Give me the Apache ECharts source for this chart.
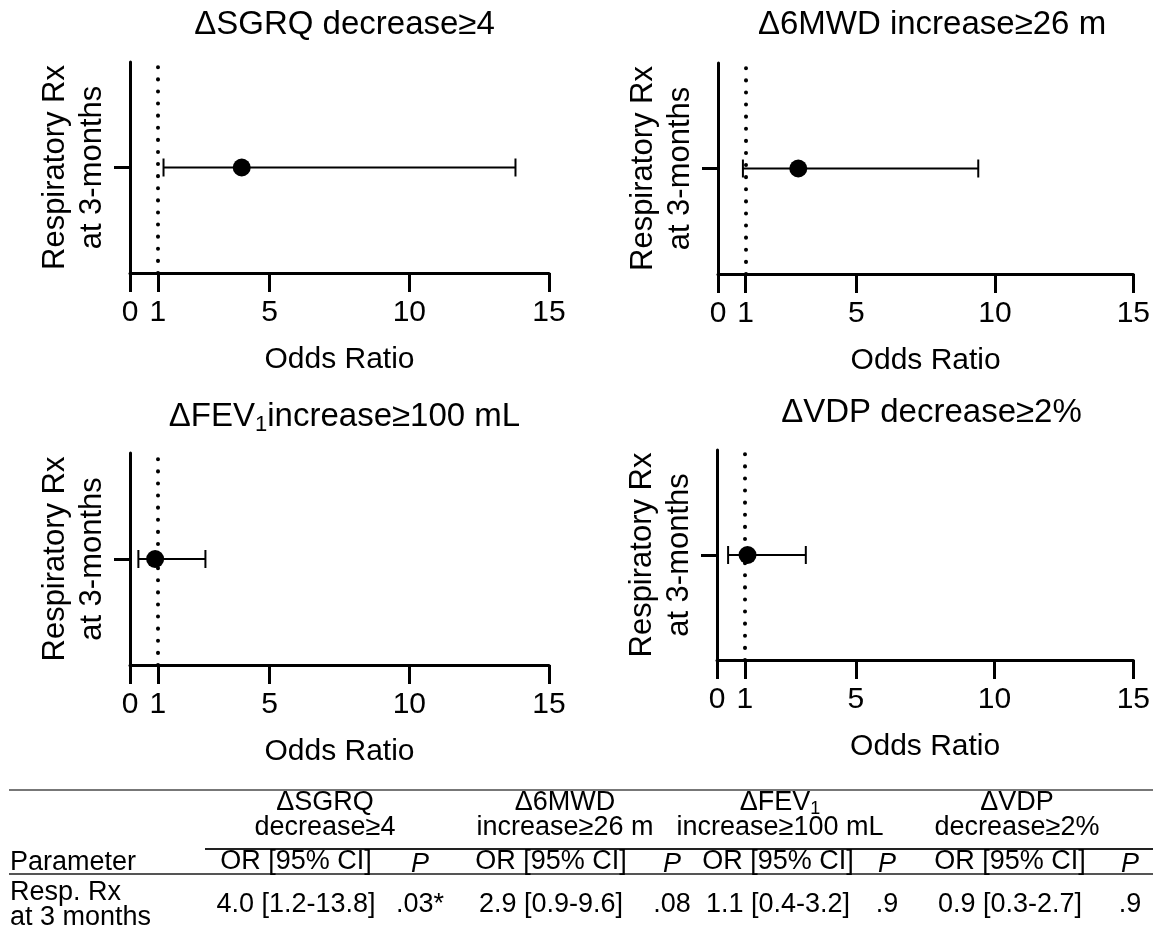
<!DOCTYPE html>
<html>
<head>
<meta charset="utf-8">
<script src="https://cdn.jsdelivr.net/npm/echarts@6/dist/echarts.min.js"></script>
<style>
  html, body { margin: 0; padding: 0; background: #fff; }
  #chart { width: 1153px; height: 935px; }
</style>
</head>
<body>
<div id="chart"></div>
<script>
// ===== datos =====
const panelTitles = ['ΔSGRQ decrease≥4', 'Δ6MWD increase≥26 m', '{a|ΔFEV}{s|1}{a|increase≥100 mL}', 'ΔVDP decrease≥2%'];
const rowName = 'Respiratory Rx\nat 3-months';
const orVals = [4.0, 2.9, 0.9, 1.1];
const loVals = [1.2, 0.9, 0.3, 0.4];
const hiVals = [13.8, 9.4, 2.7, 3.2];
const xTicks = [0, 1, 5, 10, 15];
const refLine = 1;

// tabla
const tblGroupTop = ['ΔSGRQ', 'Δ6MWD', '{a|ΔFEV}{s|1}', 'ΔVDP'];
const tblGroupBot = ['decrease≥4', 'increase≥26 m', 'increase≥100 mL', 'decrease≥2%'];
const tblOR = ['4.0 [1.2-13.8]', '2.9 [0.9-9.6]', '1.1 [0.4-3.2]', '0.9 [0.3-2.7]'];
const tblP = ['.03*', '.08', '.9', '.9'];
const tblRow = 'Resp. Rx\nat 3 months';

// ---- layout ----
const FONT = '"Liberation Sans", Arial, Helvetica, sans-serif';
const grids = [
  { left: 130, top: 62, width: 419, height: 211 },
  { left: 718, top: 63, width: 418, height: 211 },
  { left: 130, top: 453, width: 419, height: 212 },
  { left: 717, top: 450, width: 419, height: 210 },
];
const titleTop = [3, 3, 393, 391];
const groupX = [325, 565, 780, 1017];
const orX = [296, 551, 778, 1010];
const pX = [420, 672, 887, 1130];
const TF = 27; // tamaño de letra de la tabla

const chart = echarts.init(document.getElementById('chart'), null, { renderer: 'canvas' });

const axisLine = { show: true, lineStyle: { color: '#000', width: 3 } };

const option = {
  animation: false,
  textStyle: { fontFamily: FONT },
  title: grids.map((g, i) => ({
    text: panelTitles[i],
    left: g.left + g.width / 2,
    top: titleTop[i],
    textAlign: 'center',
    textStyle: {
      fontFamily: FONT, fontSize: 33, fontWeight: 'normal', color: '#000',
      rich: {
        a: { fontFamily: FONT, fontSize: 33, color: '#000', lineHeight: 38 },
        s: { fontFamily: FONT, fontSize: 22, color: '#000', lineHeight: 12, verticalAlign: 'bottom' },
      },
    },
  })),
  grid: grids.map(g => Object.assign({ containLabel: false }, g)),
  xAxis: grids.map((g, i) => ({
    type: 'value', gridIndex: i, min: 0, max: 15,
    axisLine,
    axisTick: { show: true, length: 19, customValues: xTicks, lineStyle: { color: '#000', width: 3 } },
    axisLabel: { customValues: xTicks, margin: 25, fontSize: 30, color: '#000', fontFamily: FONT },
    splitLine: { show: false },
    name: 'Odds Ratio', nameLocation: 'middle', nameGap: 72,
    nameTextStyle: { fontSize: 30, color: '#000', fontFamily: FONT },
  })),
  yAxis: grids.map((g, i) => ({
    type: 'value', gridIndex: i, min: 0, max: 2,
    axisLine,
    axisTick: { show: true, length: 16, customValues: [1], lineStyle: { color: '#000', width: 3 } },
    axisLabel: { show: false },
    splitLine: { show: false },
    name: rowName, nameLocation: 'middle', nameRotate: 90, nameGap: 19,
    nameTextStyle: { fontSize: 31, lineHeight: 37, color: '#000', fontFamily: FONT, align: 'center' },
  })),
  series: [],
  graphic: [],
};

// barras de error + punto + línea de referencia
grids.forEach((g, i) => {
  option.series.push({
    type: 'custom', xAxisIndex: i, yAxisIndex: i, z: 2,
    data: [[orVals[i], loVals[i], hiVals[i], 1]],
    encode: { x: [1, 2], y: 3 },
    renderItem(params, api) {
      const y = api.coord([0, api.value(3)])[1];
      const x0 = api.coord([api.value(1), 1])[0];
      const x1 = api.coord([api.value(2), 1])[0];
      const st = { stroke: '#000', lineWidth: 2 };
      return {
        type: 'group',
        children: [
          { type: 'line', shape: { x1: x0, y1: y, x2: x1, y2: y }, style: st },
          { type: 'line', shape: { x1: x0, y1: y - 9, x2: x0, y2: y + 9 }, style: st },
          { type: 'line', shape: { x1: x1, y1: y - 9, x2: x1, y2: y + 9 }, style: st },
        ],
      };
    },
  });
  option.series.push({
    type: 'scatter', xAxisIndex: i, yAxisIndex: i, z: 3,
    symbol: 'circle', symbolSize: 18,
    itemStyle: { color: '#000', opacity: 1 },
    data: [[orVals[i], 1]],
    markLine: {
      silent: true, symbol: ['none', 'none'], label: { show: false }, z: 1,
      lineStyle: { color: '#000', width: 4, type: [0.1, 12], cap: 'round', opacity: 1 },
      data: [{ xAxis: refLine }],
    },
  });
});

// ---- tabla ----
const txt = (x, y, text, extra) => ({
  type: 'text', x, y, silent: true,
  style: Object.assign({
    text, fill: '#000', font: TF + 'px ' + FONT,
    textAlign: 'center', textVerticalAlign: 'middle',
    rich: {
      a: { fontFamily: FONT, fontSize: TF, color: '#000', lineHeight: 30 },
      s: { fontFamily: FONT, fontSize: 18, color: '#000', lineHeight: 10, verticalAlign: 'bottom' },
    },
  }, extra || {}),
});
const hline = (x1, x2, y, color, w) => ({
  type: 'line', silent: true, shape: { x1, y1: y, x2, y2: y }, style: { stroke: color, lineWidth: w },
});

option.graphic.push(hline(9, 1153, 790, '#777', 2));
option.graphic.push(hline(205, 1153, 849, '#222', 2));
option.graphic.push(hline(9, 1153, 874, '#555', 2));
option.graphic.push(txt(10, 863, 'Parameter', { textAlign: 'left' }));
option.graphic.push(txt(10, 905, tblRow, { textAlign: 'left', lineHeight: 25 }));
tblGroupTop.forEach((t, i) => {
  option.graphic.push(txt(groupX[i], 803, t));
  option.graphic.push(txt(groupX[i], 828, tblGroupBot[i]));
  option.graphic.push(txt(orX[i], 862, 'OR [95% CI]'));
  option.graphic.push(txt(pX[i], 864, 'P', { font: 'italic ' + TF + 'px ' + FONT }));
  option.graphic.push(txt(orX[i], 905, tblOR[i]));
  option.graphic.push(txt(pX[i], 905, tblP[i]));
});

chart.setOption(option);
window.addEventListener('resize', () => chart.resize());
</script>
</body>
</html>
